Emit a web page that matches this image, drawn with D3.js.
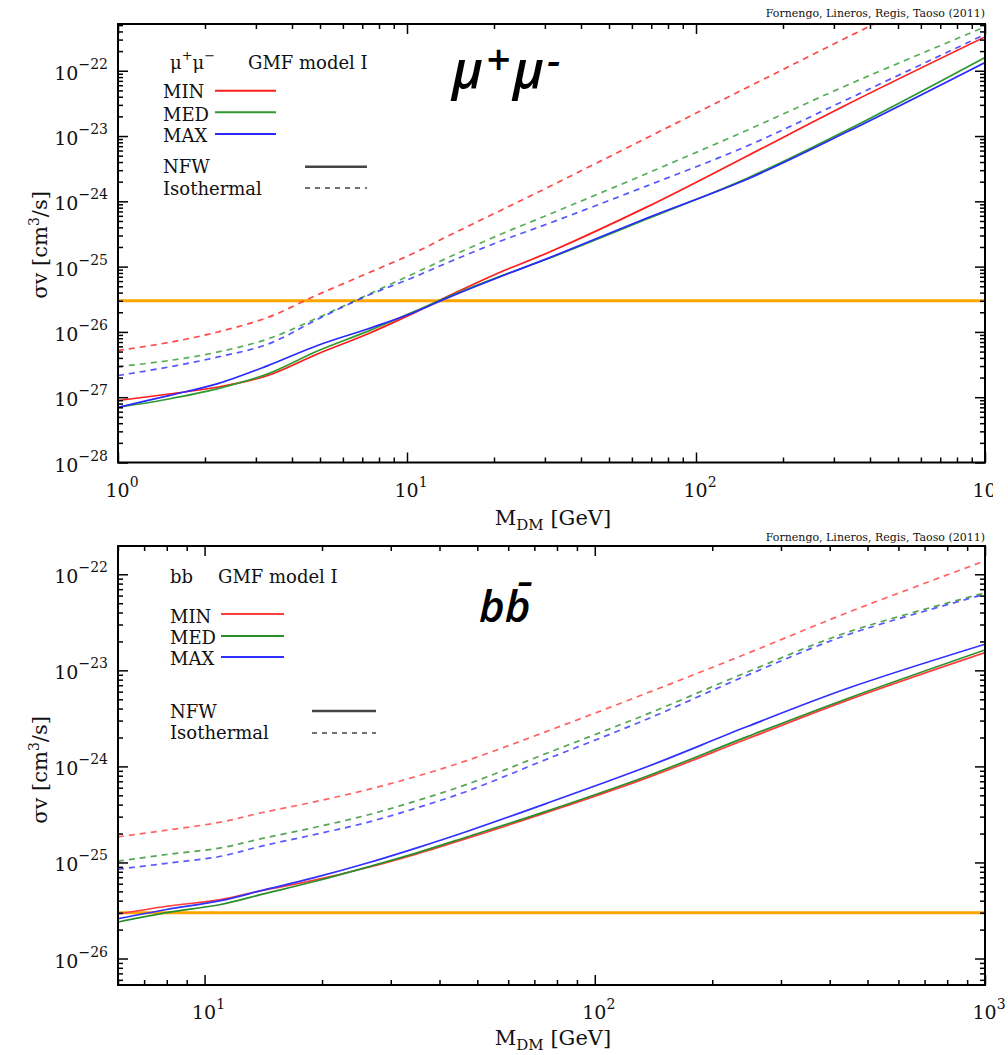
<!DOCTYPE html>
<html lang="en">
<head>
  <meta charset="UTF-8">
  <title>σv limits, GMF model I</title>
  <style>
    html, body { margin: 0; background: #fff; }
    svg { display: block; font-family: "DejaVu Serif", serif; }
  </style>
</head>
<body>
  <svg id="chart" width="1008" height="1055"></svg>

  <script src="https://cdn.jsdelivr.net/npm/d3@7"></script>
  <script>
    // ---- data (σv in cm^3/s, mass in GeV) ----
    const thermalXsec = 3e-26

    // mu+ mu- channel
    const muMass = [1, 1.5, 2.2, 3.3, 4.9, 7.3, 10.4, 14.2, 21, 31, 68, 151, 336, 1000]
    const muMinNfw = [8.9e-28, 1.12e-27, 1.42e-27, 2.15e-27, 4.6e-27, 9.3e-27, 1.89e-26, 3.7e-26, 8.2e-26, 1.66e-25, 8.3e-25, 5.0e-24, 3.1e-23, 3.3e-22]
    const muMedNfw = [7.0e-28, 9.4e-28, 1.34e-27, 2.28e-27, 5.1e-27, 1.02e-26, 1.98e-26, 3.6e-26, 7.1e-26, 1.34e-25, 5.4e-25, 2.28e-24, 1.26e-23, 1.6e-22]
    const muMaxNfw = [7.0e-28, 1.06e-27, 1.6e-27, 3.05e-27, 6.2e-27, 1.11e-26, 1.93e-26, 3.5e-26, 7.0e-26, 1.36e-25, 5.6e-25, 2.2e-24, 1.18e-23, 1.34e-22]
    const muMinIso = [5.2e-27, 6.9e-27, 9.9e-27, 1.67e-26, 3.7e-26, 7.9e-26, 1.56e-25, 3.1e-25, 7.2e-25, 1.67e-24, 9.5e-24, 5.6e-23, 3.3e-22, 3.7e-21]
    const muMedIso = [2.94e-27, 3.64e-27, 4.89e-27, 7.8e-27, 1.64e-26, 3.7e-26, 7.6e-26, 1.44e-25, 3.1e-25, 6.3e-25, 2.7e-24, 1.24e-23, 6.1e-23, 4.7e-22]
    const muMaxIso = [2.15e-27, 2.9e-27, 4.1e-27, 6.5e-27, 1.56e-26, 3.6e-26, 6.7e-26, 1.21e-25, 2.44e-25, 4.6e-25, 1.74e-24, 7.1e-24, 3.7e-23, 3.6e-22]

    // b bbar channel
    const bbMass = [6, 8, 11, 14, 19, 26, 35, 47, 75, 136, 246, 445, 1000]
    const bbMinNfw = [2.9e-26, 3.5e-26, 4.1e-26, 5.1e-26, 6.5e-26, 8.8e-26, 1.23e-25, 1.78e-25, 3.3e-25, 7.6e-25, 1.94e-24, 4.9e-24, 1.53e-23]
    const bbMedNfw = [2.4e-26, 3.0e-26, 3.65e-26, 4.65e-26, 6.3e-26, 8.9e-26, 1.26e-25, 1.84e-25, 3.4e-25, 7.9e-25, 2.04e-24, 5.1e-24, 1.63e-23]
    const bbMaxNfw = [2.6e-26, 3.24e-26, 4.0e-26, 5.1e-26, 6.9e-26, 9.8e-26, 1.42e-25, 2.1e-25, 4.1e-25, 9.9e-25, 2.6e-24, 6.5e-24, 1.87e-23]
    const bbMinIso = [1.85e-25, 2.17e-25, 2.63e-25, 3.29e-25, 4.25e-25, 5.7e-25, 7.9e-25, 1.15e-24, 2.3e-24, 5.8e-24, 1.5e-23, 4.0e-23, 1.38e-22]
    const bbMedIso = [1.03e-25, 1.21e-25, 1.42e-25, 1.77e-25, 2.3e-25, 3.1e-25, 4.4e-25, 6.5e-25, 1.36e-24, 3.5e-24, 9.6e-24, 2.5e-23, 6.4e-23]
    const bbMaxIso = [8.5e-26, 9.8e-26, 1.16e-25, 1.48e-25, 1.94e-25, 2.6e-25, 3.7e-25, 5.5e-25, 1.18e-24, 3.1e-24, 8.9e-24, 2.35e-23, 6.2e-23]

    const setups = ['MIN', 'MED', 'MAX']
    const credit = 'Fornengo, Lineros, Regis, Taoso (2011)'

    // ---- layout ----
    const width = 1008
    const height = 1055
    const left = 118
    const right = 985

    const panels = [
      {
        id: 'mu',
        top: 24, bottom: 462.5,
        xDomain: [1, 1000], yDomain: [1e-28, 5.2e-22],
        mass: muMass,
        nfw: [muMinNfw, muMedNfw, muMaxNfw],
        iso: [muMinIso, muMedIso, muMaxIso],
        colors: ['#ff1c1c', '#2f9a2f', '#2a2aff'],
        legend: {
          x: 163, titleX: 170, gmfX: 248, titleY: 69,
          rowY: [98, 120.5, 141.5], lineY: [90.7, 112.3, 134], lineX: [215, 276],
          profY: [173.3, 194.7], profLineY: [166.7, 188], profLineX: [305, 367]
        },
        creditY: 17, xTickY: 497, xTitleY: 525, yTitleY: 245,
        bigX: 452, bigY: 88,
        labelClip: 993
      },
      {
        id: 'bb',
        top: 546, bottom: 985,
        xDomain: [6, 1000], yDomain: [5.3e-27, 1.97e-22],
        mass: bbMass,
        nfw: [bbMinNfw, bbMedNfw, bbMaxNfw],
        iso: [bbMinIso, bbMedIso, bbMaxIso],
        colors: ['#ff3d3d', '#2a8f2a', '#3030ff'],
        legend: {
          x: 170, titleX: 170, gmfX: 218, titleY: 583,
          rowY: [623, 644, 664.5], lineY: [614, 636, 657], lineX: [221, 284],
          profY: [718, 739], profLineY: [711, 733], profLineX: [312, 376]
        },
        creditY: 541, xTickY: 1019, xTitleY: 1045, yTitleY: 770,
        bigX: 479, bigY: 622,
        labelClip: width
      }
    ]

    const svg = d3.select('#chart')
    svg.append('rect').attr('width', width).attr('height', height).attr('fill', '#fff')

    const isMajor = v => Math.abs(Math.log10(v) - Math.round(Math.log10(v))) < 1e-6

    function drawPanel(p) {
      const x = d3.scaleLog().domain(p.xDomain).range([left, right])
      const y = d3.scaleLog().domain(p.yDomain).range([p.bottom, p.top])
      const g = svg.append('g').attr('class', 'panel-' + p.id)

      const clipId = 'clip-' + p.id
      g.append('clipPath').attr('id', clipId)
        .append('rect')
        .attr('x', left).attr('y', p.top)
        .attr('width', right - left).attr('height', p.bottom - p.top)

      // thermal cross section
      g.append('line')
        .attr('x1', left).attr('x2', right)
        .attr('y1', y(thermalXsec)).attr('y2', y(thermalXsec))
        .attr('stroke', '#ffa500').attr('stroke-width', 3)

      // curves
      const line = d3.line()
        .x(d => x(d[0]))
        .y(d => y(d[1]))
        .curve(d3.curveCatmullRom.alpha(0.5))

      const curves = g.append('g').attr('clip-path', `url(#${clipId})`)
      const series = []
      setups.forEach((s, i) => {
        series.push({ values: p.iso[i], color: p.colors[i], dashed: true })
      })
      setups.forEach((s, i) => {
        series.push({ values: p.nfw[i], color: p.colors[i], dashed: false })
      })

      curves.selectAll('path')
        .data(series)
        .join('path')
        .attr('d', d => line(p.mass.map((m, k) => [m, d.values[k]])))
        .attr('fill', 'none')
        .attr('stroke', d => d.color)
        .attr('stroke-width', 1.7)
        .attr('stroke-opacity', d => d.dashed ? 0.8 : 1)
        .attr('stroke-dasharray', d => d.dashed ? '6,5' : null)

      // ticks on all four sides, pointing inward
      const xAll = x.ticks()
      const yAll = y.ticks()
      const xMajor = xAll.filter(isMajor)
      const xMinor = xAll.filter(v => !isMajor(v))
      const yMajor = yAll.filter(isMajor)
      const yMinor = yAll.filter(v => !isMajor(v))

      const axes = [
        [d3.axisBottom(x), `translate(0,${p.bottom})`, xMajor, xMinor],
        [d3.axisTop(x), `translate(0,${p.top})`, xMajor, xMinor],
        [d3.axisLeft(y), `translate(${left},0)`, yMajor, yMinor],
        [d3.axisRight(y), `translate(${right},0)`, yMajor, yMinor]
      ]
      axes.forEach(([axis, tr, major, minor]) => {
        ;[[major, -10], [minor, -5]].forEach(([vals, size]) => {
          const a = g.append('g')
            .attr('transform', tr)
            .call(axis.tickValues(vals).tickSize(size).tickFormat(''))
          a.select('.domain').remove()
          a.selectAll('line').attr('stroke', '#000').attr('stroke-width', 1.5)
        })
      })

      // frame
      g.append('rect')
        .attr('x', left).attr('y', p.top)
        .attr('width', right - left).attr('height', p.bottom - p.top)
        .attr('fill', 'none').attr('stroke', '#000').attr('stroke-width', 2)

      // x tick labels (the top figure is cut at its right edge)
      const xl = g.append('g')
      xl.append('clipPath').attr('id', clipId + '-xl')
        .append('rect').attr('x', 0).attr('y', 0).attr('width', p.labelClip).attr('height', height)
      xl.attr('clip-path', `url(#${clipId}-xl)`)
      xl.selectAll('text')
        .data(xMajor)
        .join('text')
        .attr('x', d => x(d) + 4)
        .attr('y', p.xTickY)
        .attr('text-anchor', 'middle')
        .attr('font-size', 19)
        .attr('fill', '#111')
        .each(function (d) {
          const t = d3.select(this)
          t.append('tspan').text('10')
          t.append('tspan').attr('font-size', 14).attr('dy', -10).text(Math.round(Math.log10(d)))
        })

      // y tick labels
      g.append('g').selectAll('text')
        .data(yMajor)
        .join('text')
        .attr('x', 108)
        .attr('y', d => y(d) + 9)
        .attr('text-anchor', 'end')
        .attr('font-size', 19)
        .attr('fill', '#111')
        .each(function (d) {
          const t = d3.select(this)
          t.append('tspan').text('10')
          t.append('tspan').attr('font-size', 14).attr('dy', -11)
            .text('\u2212' + Math.abs(Math.round(Math.log10(d))))
        })

      // axis titles
      const xt = g.append('text')
        .attr('x', 553).attr('y', p.xTitleY)
        .attr('text-anchor', 'middle')
        .attr('font-size', 21)
        .attr('fill', '#111')
      xt.append('tspan').text('M')
      xt.append('tspan').attr('font-size', 15).attr('dy', 5).text('DM')
      xt.append('tspan').attr('dy', -5).text(' [GeV]')

      const yt = g.append('text')
        .attr('transform', `translate(47,${p.yTitleY}) rotate(-90)`)
        .attr('text-anchor', 'middle')
        .attr('font-size', 21)
        .attr('fill', '#111')
      yt.append('tspan').text('σv [cm')
      yt.append('tspan').attr('font-size', 14).attr('dy', -8).text('3')
      yt.append('tspan').attr('dy', 8).text('/s]')

      // credit
      g.append('text')
        .attr('x', right).attr('y', p.creditY)
        .attr('text-anchor', 'end')
        .attr('font-size', 11)
        .attr('fill', '#111')
        .text(credit)

      // legend
      const L = p.legend
      const lg = g.append('g').attr('font-size', 18).attr('fill', '#111')
      const title = lg.append('text').attr('x', L.titleX).attr('y', L.titleY)
      if (p.id === 'mu') {
        title.append('tspan').text('μ')
        title.append('tspan').attr('font-size', 13).attr('dy', -9).text('+')
        title.append('tspan').attr('dy', 9).text('μ')
        title.append('tspan').attr('font-size', 13).attr('dy', -9).text('\u2212')
      } else {
        title.text('bb')
      }
      lg.append('text').attr('x', L.gmfX).attr('y', L.titleY).text('GMF model I')

      setups.forEach((s, i) => {
        lg.append('text').attr('x', L.x).attr('y', L.rowY[i]).text(s)
        lg.append('line')
          .attr('x1', L.lineX[0]).attr('x2', L.lineX[1])
          .attr('y1', L.lineY[i]).attr('y2', L.lineY[i])
          .attr('stroke', p.colors[i]).attr('stroke-width', 2)
      })
      ;['NFW', 'Isothermal'].forEach((s, i) => {
        lg.append('text').attr('x', L.x).attr('y', L.profY[i]).text(s)
        lg.append('line')
          .attr('x1', L.profLineX[0]).attr('x2', L.profLineX[1])
          .attr('y1', L.profLineY[i]).attr('y2', L.profLineY[i])
          .attr('stroke', '#444')
          .attr('stroke-width', i === 0 ? 2.5 : 1.5)
          .attr('stroke-dasharray', i === 0 ? null : '5,5')
      })

      // big channel label
      const big = g.append('text')
        .attr('x', p.bigX).attr('y', p.bigY)
        .attr('font-family', '"Open Sans", "DejaVu Sans", sans-serif')
        .attr('font-style', 'italic')
        .attr('font-weight', 600)
        .attr('font-size', p.id === 'mu' ? 52 : 44)
        .attr('letter-spacing', p.id === 'mu' ? 3 : 0)
        .attr('fill', '#000')
      if (p.id === 'mu') {
        big.append('tspan').text('μ')
        big.append('tspan').attr('font-size', 42).attr('dy', -13).text('+')
        big.append('tspan').attr('dy', 13).text('μ')
        big.append('tspan').attr('font-size', 42).attr('dy', -13).text('-')
      } else {
        big.text('bb\u0304')
      }
    }

    panels.forEach(drawPanel)
  </script>
</body>
</html>
